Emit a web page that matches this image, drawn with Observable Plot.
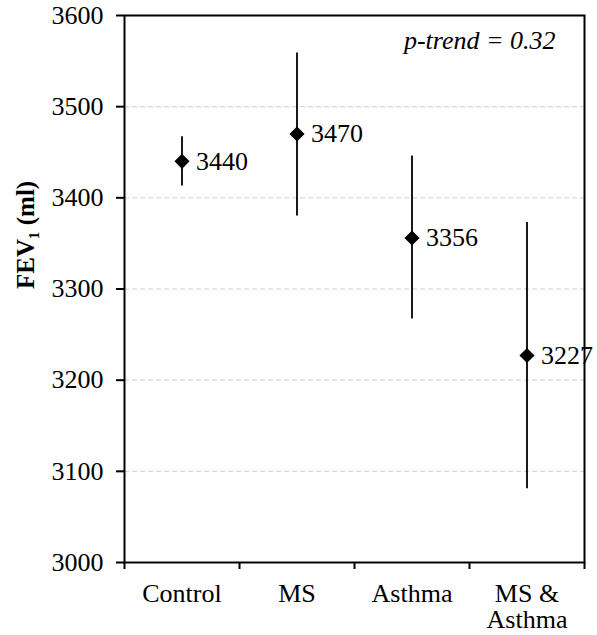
<!DOCTYPE html>
<html>
<head>
<meta charset="utf-8">
<script src="https://cdn.jsdelivr.net/npm/d3@7"></script>
<script src="https://cdn.jsdelivr.net/npm/@observablehq/plot@0.6"></script>
<style>
  html, body { margin: 0; padding: 0; background: #fff; }
  svg text { font-family: "Liberation Serif", serif; }
</style>
</head>
<body>
<div id="chart"></div>
<script>
const categories = ["Control", "MS", "Asthma", "MS & Asthma"];
const means = [3440, 3470, 3356, 3227];
const lower = [3413, 3380, 3267, 3081];
const upper = [3467, 3559, 3446, 3373];
const yTicks = [3000, 3100, 3200, 3300, 3400, 3500, 3600];
const gridTicks = [3100, 3200, 3300, 3400, 3500];
const yLabel = "FEV\u2081 (ml)";
const annotation = "p-trend = 0.32";

const data = categories.map((c, i) => ({
  cat: c, pos: i + 0.5, mean: means[i], lo: lower[i], hi: upper[i]
}));
const bounds = d3.range(categories.length + 1);

const chart = Plot.plot({
  width: 597,
  height: 635,
  marginLeft: 124,
  marginRight: 13,
  marginTop: 15,
  marginBottom: 73,
  style: { fontFamily: "Liberation Serif", fontSize: "26px", color: "black", background: "white" },
  x: { type: "linear", domain: [0, categories.length] },
  y: { domain: [3000, 3600] },
  marks: [
    Plot.gridY(gridTicks, { stroke: "#cfcfcf", strokeOpacity: 1, strokeWidth: 1, strokeDasharray: "5,3" }),
    Plot.axisY({ ticks: yTicks, tickSize: 8, tickPadding: 13, label: null, strokeWidth: 2, tickFormat: d => String(d) }),
    Plot.axisX({ ticks: bounds, tickSize: 7, tickFormat: () => "", label: null, strokeWidth: 2 }),
    Plot.ruleX(data, { x: "pos", y1: "lo", y2: "hi", stroke: "black", strokeWidth: 1.8 }),
    Plot.dot(data, { x: "pos", y: "mean", symbol: "diamond2", r: 6.8, fill: "black", stroke: null }),
    Plot.text(data, { x: "pos", y: "mean", text: d => String(d.mean), textAnchor: "start", dx: 14, fill: "black" }),
    Plot.text(data, { x: "pos", text: d => d.cat.replace(" & ", " &\n"), frameAnchor: "bottom", lineAnchor: "top", dy: 20, fill: "black", lineHeight: 1.03 }),
    Plot.text([annotation], { frameAnchor: "top-right", textAnchor: "end", lineAnchor: "top", dx: -29, dy: 15, fontStyle: "italic", fill: "black" }),
    Plot.text([yLabel], { frameAnchor: "left", rotate: -90, dx: -99, fontWeight: "bold", fontSize: 25, fill: "black", lineAnchor: "middle" }),
    Plot.frame({ stroke: "black", strokeWidth: 2 })
  ]
});
document.getElementById("chart").appendChild(chart);
</script>
</body>
</html>
